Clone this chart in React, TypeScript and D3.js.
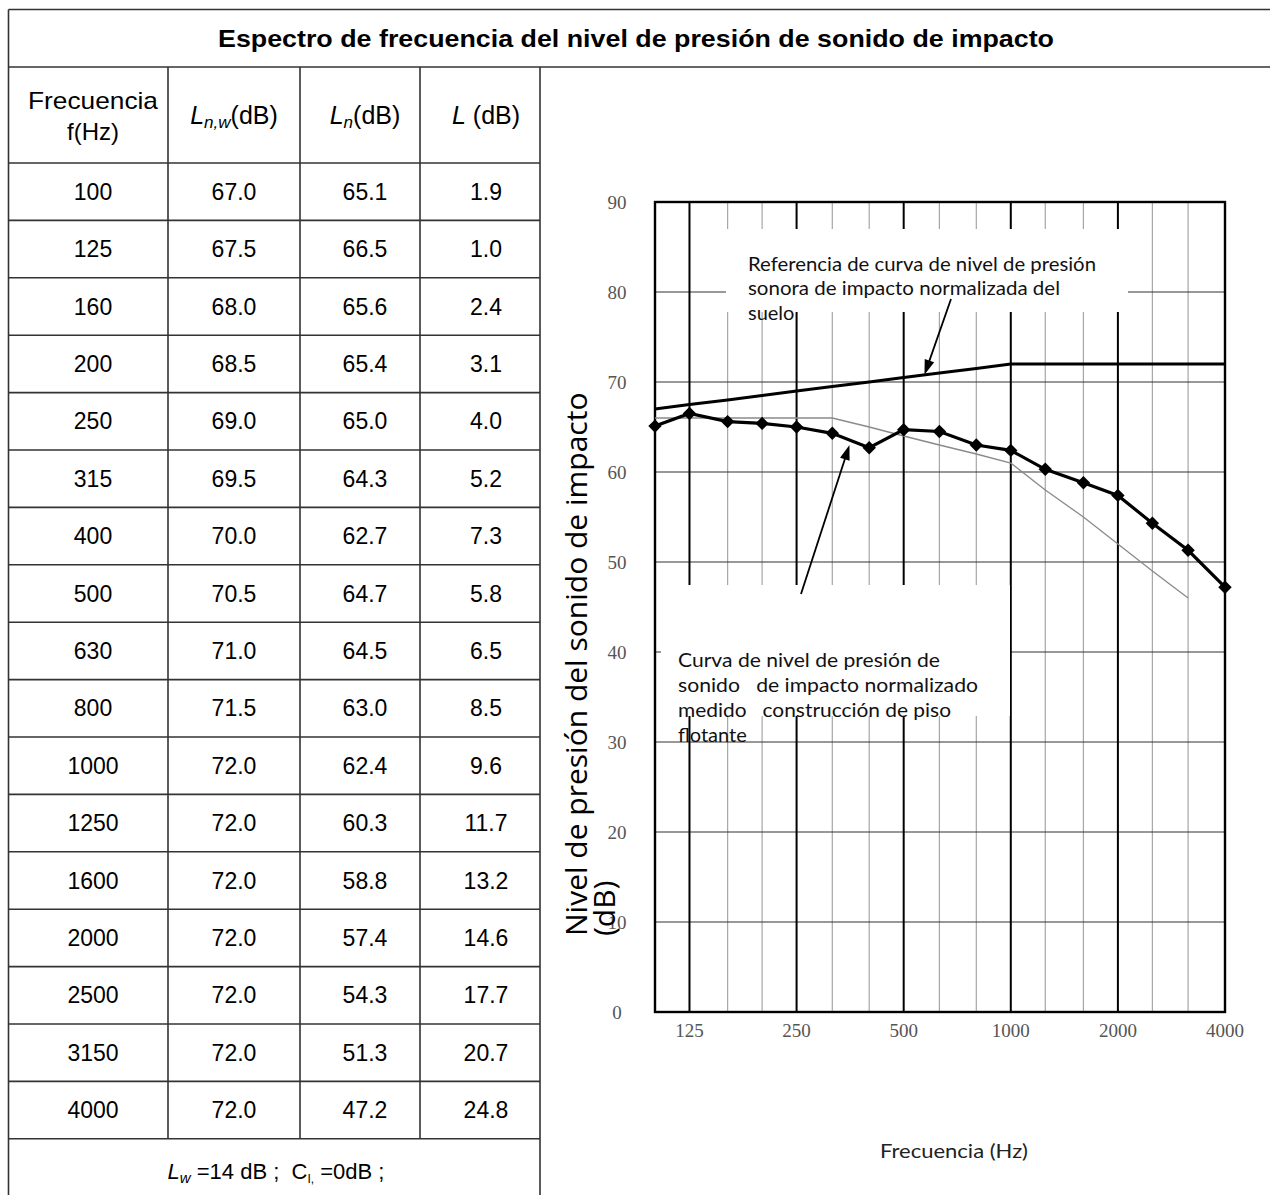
import React from 'react';
import * as d3 from 'd3';

// third-octave bands and table columns
const freqs = [100, 125, 160, 200, 250, 315, 400, 500, 630, 800, 1000, 1250, 1600, 2000, 2500, 3150, 4000];
const lnwValues = [67.0, 67.5, 68.0, 68.5, 69.0, 69.5, 70.0, 70.5, 71.0, 71.5, 72.0, 72.0, 72.0, 72.0, 72.0, 72.0, 72.0];
const lnValues = [65.1, 66.5, 65.6, 65.4, 65.0, 64.3, 62.7, 64.7, 64.5, 63.0, 62.4, 60.3, 58.8, 57.4, 54.3, 51.3, 47.2];
const diffValues = [1.9, 1.0, 2.4, 3.1, 4.0, 5.2, 7.3, 5.8, 6.5, 8.5, 9.6, 11.7, 13.2, 14.6, 17.7, 20.7, 24.8];

// thin grey curve (shifted ISO reference), 100..3150 Hz
const shiftedRefFreqs = [100, 125, 160, 200, 250, 315, 400, 500, 630, 800, 1000, 1250, 1600, 2000, 2500, 3150];
const shiftedRefValues = [66, 66, 66, 66, 66, 66, 65, 64, 63, 62, 61, 58, 55, 52, 49, 46];

const octaveTicks = [125, 250, 500, 1000, 2000, 4000];
const thirdOctaveLines = [160, 200, 315, 400, 630, 800, 1250, 1600, 2500, 3150];
const yTicks = [0, 10, 20, 30, 40, 50, 60, 70, 80, 90];
const yGrid = [10, 20, 30, 40, 50, 60, 70, 80];

const W = 1270;
const H = 1195;

// table layout
const tLeft = 8.5;
const tTop = 9.5;
const titleBottom = 67;
const headBottom = 163;
const rowH = 57.4;
const colX = [tLeft, 168, 300, 420, 540];
const colCenter = [93, 234, 365, 486];

// plot area
const pl = 655, pr = 1225, pt = 202, pb = 1012;

const x = d3.scaleLog().domain([100, 4000]).range([pl, pr]);
const y = d3.scaleLinear().domain([0, 90]).range([pb, pt]);

const arrowHead = (x1: number, y1: number, x2: number, y2: number, len = 15, w = 5) => {
  const a = Math.atan2(y2 - y1, x2 - x1);
  const bx = x2 - len * Math.cos(a);
  const by = y2 - len * Math.sin(a);
  const px = -Math.sin(a) * w;
  const py = Math.cos(a) * w;
  return `M${x2},${y2}L${bx + px},${by + py}L${bx - px},${by - py}Z`;
};

const Arrow = ({ x1, y1, x2, y2 }: { x1: number; y1: number; x2: number; y2: number }) => {
  const a = Math.atan2(y2 - y1, x2 - x1);
  return (
    <g>
      <line x1={x1} y1={y1} x2={x2 - 10 * Math.cos(a)} y2={y2 - 10 * Math.sin(a)} stroke="#000" strokeWidth={1.8} />
      <path d={arrowHead(x1, y1, x2, y2)} fill="#000" />
    </g>
  );
};

const App = () => {
  const lineGen = d3.line<[number, number]>().x((d) => x(d[0])).y((d) => y(d[1]));
  const lnwLine = lineGen(freqs.map((f, i) => [f, lnwValues[i]]));
  const lnLine = lineGen(freqs.map((f, i) => [f, lnValues[i]]));
  const refLine = lineGen(shiftedRefFreqs.map((f, i) => [f, shiftedRefValues[i]]));
  const diamond = d3.symbol(d3.symbolSquare, 90)();

  const rowTop = (i: number) => headBottom + i * rowH;
  const footTop = rowTop(freqs.length);

  const tableFont = "'Liberation Sans', Arial, sans-serif";
  const noteFont = "Lato, 'Open Sans', sans-serif";

  // annotation arrow anchors on the curves
  const upTip: [number, number] = [x(572), y(70.8)];
  const lowTip: [number, number] = [x(352), y(63.0)];

  return (
    <svg
      width={W}
      height={H}
      viewBox={`0 0 ${W} ${H}`}
      style={{ position: 'fixed', left: 0, top: 0, background: '#fff' }}
    >
      <rect x={0} y={0} width={W} height={H} fill="#fff" />

      {/* ---------- table ---------- */}
      <g stroke="#333" strokeWidth={1.6} fill="none">
        <line x1={tLeft} y1={tTop} x2={W} y2={tTop} />
        <line x1={tLeft} y1={titleBottom} x2={W} y2={titleBottom} />
        <line x1={tLeft} y1={tTop} x2={tLeft} y2={H} />
        <line x1={colX[4]} y1={titleBottom} x2={colX[4]} y2={H} />
        {colX.slice(1, 4).map((cx) => (
          <line key={cx} x1={cx} y1={titleBottom} x2={cx} y2={footTop} />
        ))}
        {d3.range(freqs.length + 1).map((i) => (
          <line key={i} x1={tLeft} y1={rowTop(i)} x2={colX[4]} y2={rowTop(i)} />
        ))}
      </g>

      <text
        x={218}
        y={47}
        fontFamily={tableFont}
        fontWeight="bold"
        fontSize={24}
        fill="#000"
        textLength={836}
        lengthAdjust="spacingAndGlyphs"
      >
        Espectro de frecuencia del nivel de presión de sonido de impacto
      </text>

      <g fontFamily={tableFont} fontSize={23} fill="#000" textAnchor="middle">
        <text x={colCenter[0]} y={109} fontSize={24} textLength={130} lengthAdjust="spacingAndGlyphs">Frecuencia</text>
        <text x={colCenter[0]} y={140} fontSize={24}>f(Hz)</text>
        <text x={colCenter[1]} y={124} fontSize={25}>
          <tspan fontStyle="italic">L</tspan>
          <tspan fontStyle="italic" fontSize={17} dy={4}>n,w</tspan>
          <tspan dy={-4}>(dB)</tspan>
        </text>
        <text x={colCenter[2]} y={124} fontSize={25}>
          <tspan fontStyle="italic">L</tspan>
          <tspan fontStyle="italic" fontSize={17} dy={4}>n</tspan>
          <tspan dy={-4}>(dB)</tspan>
        </text>
        <text x={colCenter[3]} y={124} fontSize={25} xmlSpace="preserve">
          <tspan fontStyle="italic">L</tspan>
          <tspan> (dB)</tspan>
        </text>

        {freqs.map((f, i) => {
          const cy = rowTop(i) + rowH / 2 + 8;
          return (
            <g key={f}>
              <text x={colCenter[0]} y={cy}>{f}</text>
              <text x={colCenter[1]} y={cy}>{lnwValues[i].toFixed(1)}</text>
              <text x={colCenter[2]} y={cy}>{lnValues[i].toFixed(1)}</text>
              <text x={colCenter[3]} y={cy}>{diffValues[i].toFixed(1)}</text>
            </g>
          );
        })}

        <text x={276} y={footTop + 40} fontSize={22} xmlSpace="preserve">
          <tspan fontStyle="italic">L</tspan>
          <tspan fontStyle="italic" fontSize={15} dy={4}>w</tspan>
          <tspan dy={-4}> =14 dB ;  C</tspan>
          <tspan fontSize={12} dy={4}>I,</tspan>
          <tspan dy={-4}> =0dB ;</tspan>
        </text>
      </g>

      {/* ---------- chart grid ---------- */}
      <g>
        {thirdOctaveLines.map((f) => (
          <line key={f} x1={x(f)} y1={pt} x2={x(f)} y2={pb} stroke="#a6a6a6" strokeWidth={1.2} />
        ))}
        {yGrid.map((v) => (
          <line key={v} x1={pl} y1={y(v)} x2={pr} y2={y(v)} stroke="#333" strokeWidth={1.2} />
        ))}
        {octaveTicks.slice(0, 5).map((f) => (
          <line key={f} x1={x(f)} y1={pt} x2={x(f)} y2={pb} stroke="#000" strokeWidth={2} />
        ))}
      </g>

      {/* white boxes behind the annotations */}
      <rect x={726} y={229} width={402} height={83} fill="#fff" />
      <rect x={661} y={585} width={349} height={131} fill="#fff" />

      <rect x={pl} y={pt} width={pr - pl} height={pb - pt} fill="none" stroke="#000" strokeWidth={2.4} />

      {/* ---------- curves ---------- */}
      <path d={refLine ?? ''} fill="none" stroke="#8a8a8a" strokeWidth={1.3} />
      <path d={lnwLine ?? ''} fill="none" stroke="#000" strokeWidth={3} />
      <path d={lnLine ?? ''} fill="none" stroke="#000" strokeWidth={3.2} />
      {freqs.map((f, i) => (
        <path
          key={f}
          d={diamond ?? ''}
          transform={`translate(${x(f)},${y(lnValues[i])}) rotate(45)`}
          fill="#000"
        />
      ))}

      {/* ---------- axis labels ---------- */}
      <g fontFamily="'Liberation Serif', 'Times New Roman', serif" fontSize={19} fill="#555" textAnchor="middle">
        {yTicks.map((v) => (
          <text key={v} x={617} y={y(v) + 7}>{v}</text>
        ))}
        {octaveTicks.map((f) => (
          <text key={f} x={x(f)} y={1037}>{f}</text>
        ))}
      </g>

      <g fontFamily="'Open Sans', sans-serif" fontSize={30} fill="#000">
        <text transform="translate(587,936) rotate(-90)">Nivel de presión del sonido de impacto</text>
        <text transform="translate(615,936) rotate(-90)">(dB)</text>
      </g>

      <text x={880} y={1158} fontFamily={noteFont} fontSize={19} fill="#222" textLength={148} lengthAdjust="spacingAndGlyphs">
        Frecuencia (Hz)
      </text>

      {/* ---------- annotations ---------- */}
      <g fontFamily={noteFont} fontSize={20} fill="#111">
        <text x={748} y={271} xmlSpace="preserve" textLength={348} lengthAdjust="spacingAndGlyphs">Referencia de curva de nivel de presión</text>
        <text x={748} y={295} xmlSpace="preserve" textLength={312} lengthAdjust="spacingAndGlyphs">sonora de impacto normalizada del</text>
        <text x={748} y={320} xmlSpace="preserve">suelo</text>
        <text x={678} y={667} xmlSpace="preserve" textLength={262} lengthAdjust="spacingAndGlyphs">Curva de nivel de presión de</text>
        <text x={678} y={692} xmlSpace="preserve" textLength={300} lengthAdjust="spacingAndGlyphs">sonido   de impacto normalizado</text>
        <text x={678} y={717} xmlSpace="preserve" textLength={273} lengthAdjust="spacingAndGlyphs">medido   construcción de piso</text>
        <text x={678} y={742} xmlSpace="preserve">flotante</text>
      </g>

      <Arrow x1={951} y1={299} x2={upTip[0]} y2={upTip[1]} />
      <Arrow x1={801} y1={594} x2={lowTip[0]} y2={lowTip[1]} />
    </svg>
  );
};

export default App;
